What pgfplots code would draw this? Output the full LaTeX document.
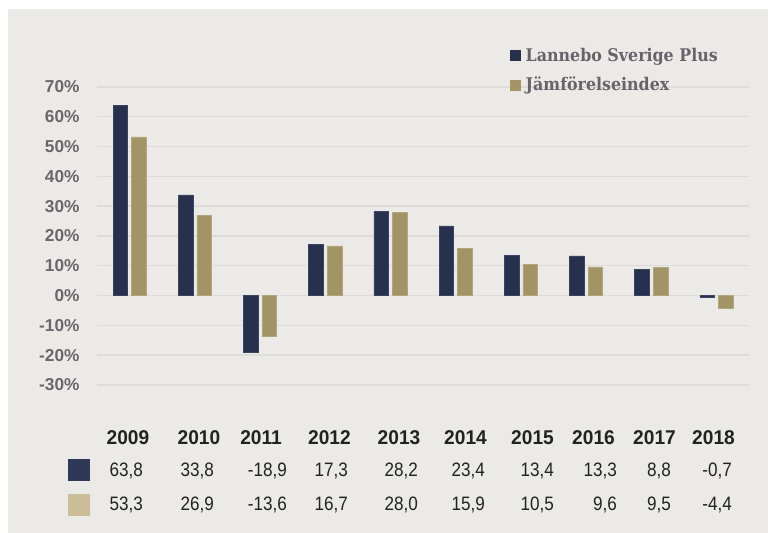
\documentclass[border=0pt]{standalone}
\usepackage{pgfplots}
\pgfplotsset{compat=1.18}
\usepackage{fontspec}
\setmainfont{Liberation Sans}
\newfontfamily\tickfont{Liberation Sans}
\newfontfamily\yearfont[FakeStretch=0.96]{Liberation Sans}
\newfontfamily\numfont[FakeStretch=0.88]{Liberation Sans}
\newfontfamily\legfont[FakeStretch=0.91]{DejaVu Serif}
\definecolor{panel}{HTML}{ECEAE7}
\definecolor{gridc}{HTML}{DEDCDB}
\definecolor{navy}{HTML}{27314D}
\definecolor{navyedge}{HTML}{3A4360}
\definecolor{gold}{HTML}{A39466}
\definecolor{goldedge}{HTML}{B3A67E}
\definecolor{tan}{HTML}{CBBD97}
\definecolor{navysq}{HTML}{2D3956}
\definecolor{tickgray}{HTML}{69666C}
\definecolor{leggray}{HTML}{66636A}
\definecolor{tabtext}{HTML}{222222}
\begin{document}
\begin{tikzpicture}[x=1bp,y=1bp]
\useasboundingbox (0,0) rectangle (768,533);
\fill[white] (0,0) rectangle (768,533);
\fill[panel] (8,0) rectangle (768,524);
\begin{axis}[
  at={(97bp,148bp)}, anchor=south west,
  scale only axis, width=652bp, height=298bp,
  xmin=-0.5, xmax=9.5, ymin=-30, ymax=70,
  ytick={-30,-20,...,70}, xtick=\empty,
  axis line style={draw=none},
  ymajorgrids, grid style={color=gridc, line width=1.4bp},
  major tick length=0pt,
  yticklabel={\pgfmathprintnumber{\tick}\%},
  yticklabel style={font=\tickfont\bfseries\fontsize{17.3}{19}\selectfont, text=tickgray, xshift=-14bp, /pgf/number format/assume math mode=true},
  ybar, bar width=14.5bp, clip=false,
]
\addplot[fill=navy, draw=navyedge, line width=0.5bp, bar shift=-9.3bp] coordinates {
 (0,63.8) (1,33.8) (2,-18.9) (3,17.3) (4,28.2) (5,23.4) (6,13.4) (7,13.3) (8,8.8) (9,-0.7)};
\addplot[fill=gold, draw=goldedge, line width=0.5bp, bar shift=9.3bp] coordinates {
 (0,53.3) (1,26.9) (2,-13.6) (3,16.7) (4,28.0) (5,15.9) (6,10.5) (7,9.6) (8,9.5) (9,-4.4)};
\end{axis}
% legend
\fill[navy] (510,472) rectangle (521,483);
\fill[gold] (510,442) rectangle (521,453);
\node[anchor=base west, inner sep=0, text=leggray, font=\legfont\bfseries\fontsize{17.5}{20}\selectfont] at (525.5,471) {Lannebo Sverige Plus};
\node[anchor=base west, inner sep=0, text=leggray, font=\legfont\bfseries\fontsize{17.5}{20}\selectfont] at (525.5,442) {Jämförelseindex};
% table
\fill[navysq] (68,52) rectangle (90,74);
\fill[tan] (68,17) rectangle (90,39);
\foreach \xc/\xr/\yr/\a/\b in {128/143/2009/{63,8}/{53,3}, 199/214/2010/{33,8}/{26,9}, 261/287/2011/{-18,9}/{-13,6}, 329.5/348/2012/{17,3}/{16,7}, 399/418/2013/{28,2}/{28,0}, 465.5/485/2014/{23,4}/{15,9}, 532.5/554/2015/{13,4}/{10,5}, 593.5/617/2016/{13,3}/{9,6}, 654.5/671/2017/{8,8}/{9,5}, 713.5/732/2018/{-0,7}/{-4,4}} {
  \node[anchor=base, inner sep=0, text=tabtext, font=\yearfont\bfseries\fontsize{20}{22}\selectfont] at (\xc,88) {\yr};
  \node[anchor=base east, inner sep=0, text=tabtext, font=\numfont\fontsize{19.5}{22}\selectfont] at (\xr,56) {\a};
  \node[anchor=base east, inner sep=0, text=tabtext, font=\numfont\fontsize{19.5}{22}\selectfont] at (\xr,22) {\b};
}
\end{tikzpicture}
\end{document}
